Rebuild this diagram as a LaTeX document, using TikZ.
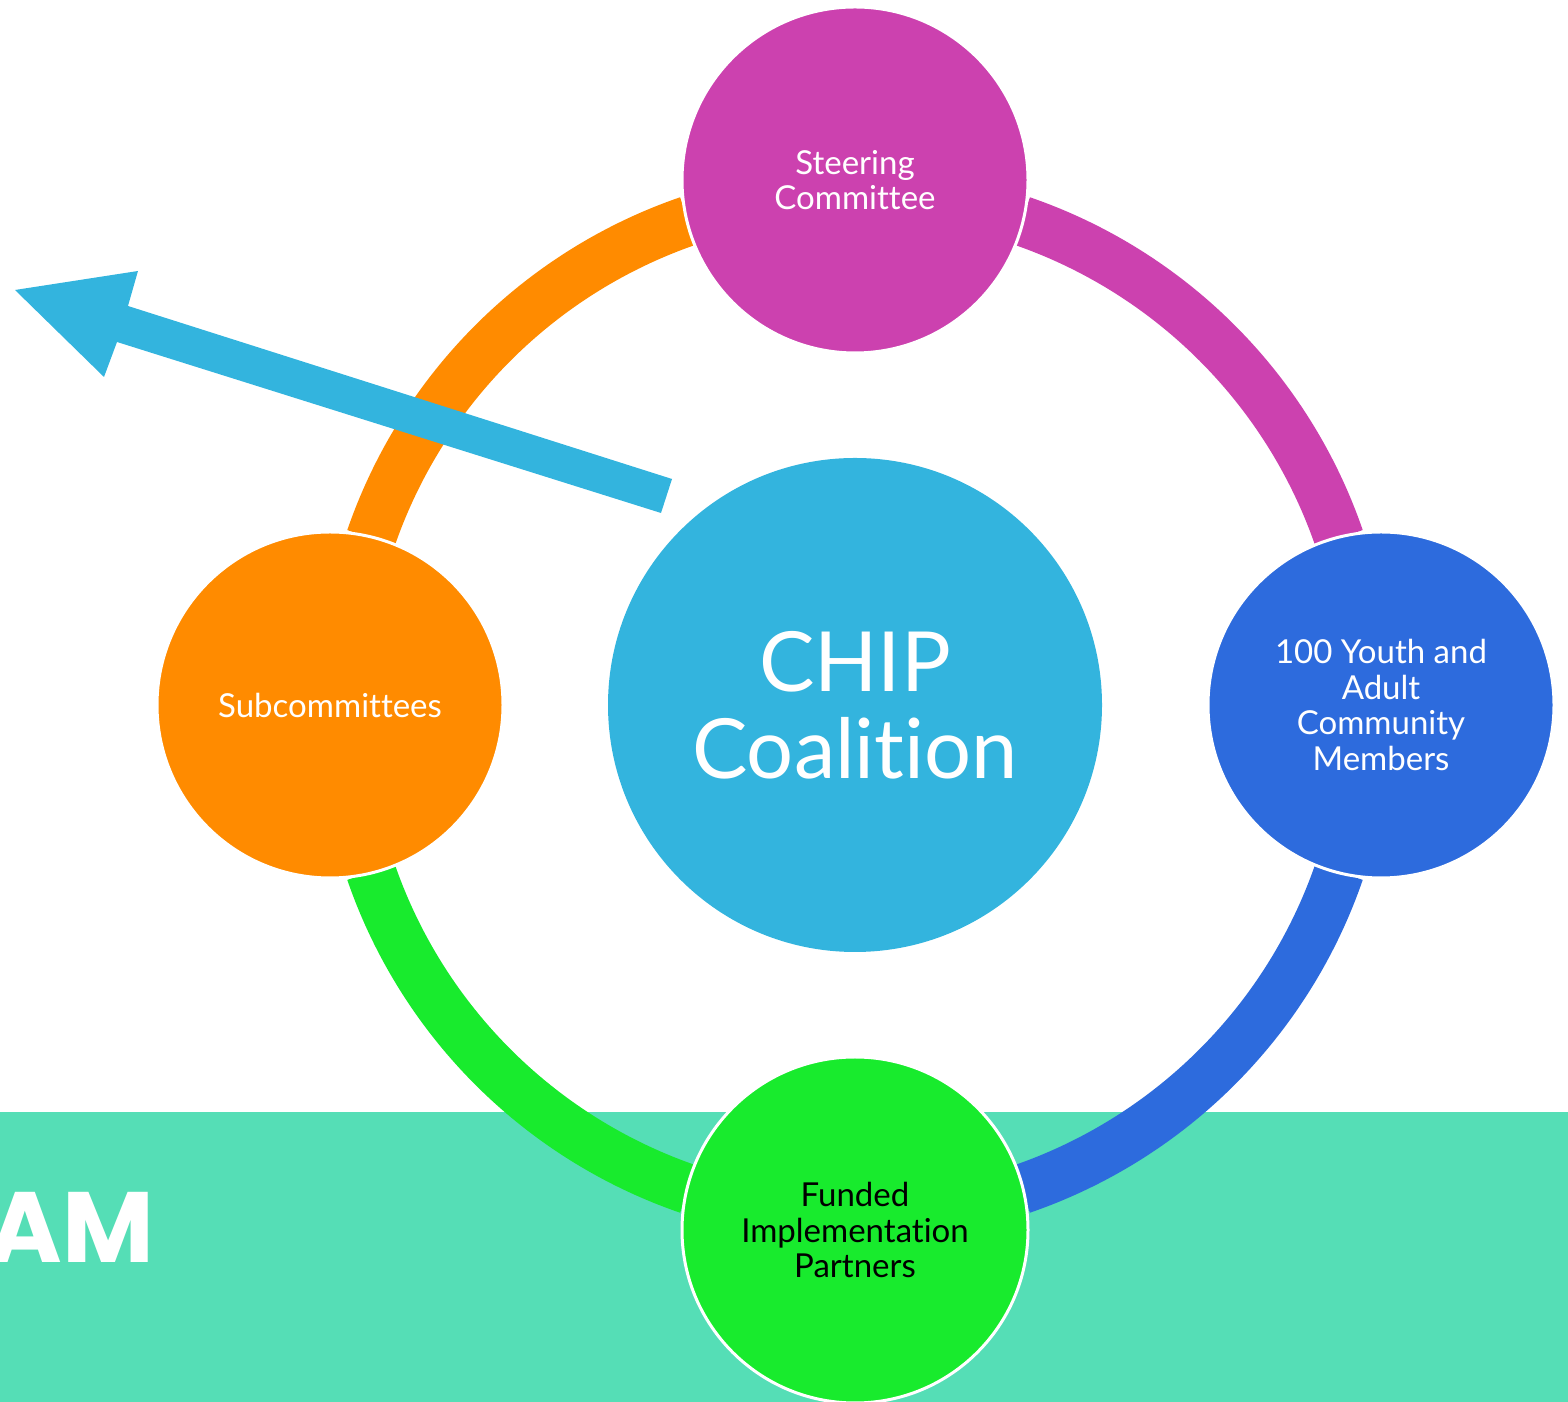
\documentclass[tikz,border=0pt]{standalone}
\usepackage{fontspec}
\setmainfont{Lato}[Ligatures={NoCommon}]
\newfontfamily\amfont{Poppins}
\definecolor{cCenter}{HTML}{33B4DE}
\definecolor{cMag}{HTML}{CC41AF}
\definecolor{cBlue}{HTML}{2D6BDD}
\definecolor{cGreen}{HTML}{18EB2D}
\definecolor{cOrange}{HTML}{FF8B00}
\definecolor{cTeal}{HTML}{55DEB6}
\tikzset{
  member/.style={circle, minimum size=346pt, inner sep=0pt, draw=white, line width=3pt,
    align=center, text=white, font=\fontsize{33}{35.5}\selectfont},
  ringarc/.style={line width=50pt, line cap=butt},
}
\begin{document}
\begin{tikzpicture}[x=1pt,y=1pt]
\useasboundingbox (0,0) rectangle (1568,1402);
% teal band
\fill[cTeal] (0,0) rectangle (1568,290);
\coordinate (C) at (855,697);
% ring arcs
\draw[ringarc, cMag]    ([shift={(19:512pt)}]C) arc[start angle=19, end angle=71, radius=512pt];
\draw[ringarc, cOrange] ([shift={(109:512pt)}]C) arc[start angle=109, end angle=161, radius=512pt];
\draw[ringarc, cGreen]  ([shift={(199:512pt)}]C) arc[start angle=199, end angle=251, radius=512pt];
\draw[ringarc, cBlue]   ([shift={(289:512pt)}]C) arc[start angle=289, end angle=341, radius=512pt];
% nodes
\node[circle, minimum size=494pt, inner sep=0pt, fill=cCenter, text=white, align=center,
      font=\fontsize{83}{87}\selectfont] (center) at (C) {CHIP\\Coalition};
\node[member, fill=cMag] (steer) at (855,1222) {Steering\\Committee};
\node[member, fill=cBlue] (youth) at (1381,697) {100 Youth and\\Adult\\Community\\Members};
\node[member, fill=cGreen, text=black] (funded) at (855,172) {Funded\\Implementation\\Partners};
\node[member, fill=cOrange] (sub) at (330,697) {Subcommittees};
% arrow
\coordinate (tailA) at (672,923);
\coordinate (tailB) at (661,889);
\coordinate (tip) at (15,1112);
\fill[cCenter] (tailA) -- (128,1096) -- (138,1131) -- (tip) -- (104,1025) -- (117,1060) -- (tailB) -- cycle;
% partial title text
\node[anchor=base east, inner sep=0pt, text=white, font=\amfont\bfseries\fontsize{100}{100}\selectfont] (am) at (154,139) {AM};
\end{tikzpicture}
\end{document}
